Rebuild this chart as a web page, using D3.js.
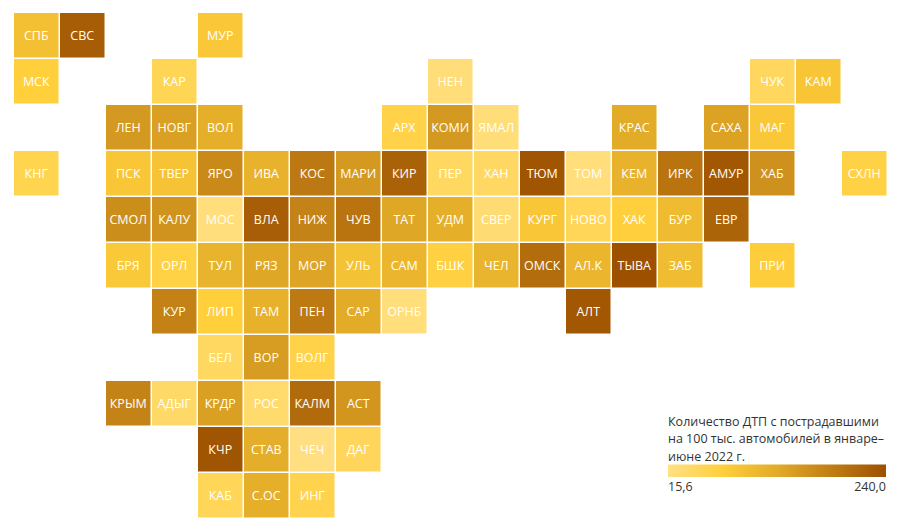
<!DOCTYPE html>
<html>
<head>
<meta charset="utf-8">
<script src="https://cdn.jsdelivr.net/npm/d3@7"></script>
<style>
  html, body { margin: 0; background: #fff; }
  text { font-family: "Open Sans", sans-serif; }
</style>
</head>
<body>
<div id="chart"></div>
<script>
// tile grid, one list per row, "" is an empty cell
const tileRows = [
  ["СПБ","СВС","","","МУР"],
  ["МСК","","","КАР","","","","","","НЕН","","","","","","","ЧУК","КАМ"],
  ["","","ЛЕН","НОВГ","ВОЛ","","","","АРХ","КОМИ","ЯМАЛ","","","КРАС","","САХА","МАГ"],
  ["КНГ","","ПСК","ТВЕР","ЯРО","ИВА","КОС","МАРИ","КИР","ПЕР","ХАН","ТЮМ","ТОМ","КЕМ","ИРК","АМУР","ХАБ","","СХЛН"],
  ["","","СМОЛ","КАЛУ","МОС","ВЛА","НИЖ","ЧУВ","ТАТ","УДМ","СВЕР","КУРГ","НОВО","ХАК","БУР","ЕВР"],
  ["","","БРЯ","ОРЛ","ТУЛ","РЯЗ","МОР","УЛЬ","САМ","БШК","ЧЕЛ","ОМСК","АЛ.К","ТЫВА","ЗАБ","","ПРИ"],
  ["","","","КУР","ЛИП","ТАМ","ПЕН","САР","ОРНБ","","","","АЛТ"],
  ["","","","","БЕЛ","ВОР","ВОЛГ"],
  ["","","КРЫМ","АДЫГ","КРДР","РОС","КАЛМ","АСТ"],
  ["","","","","КЧР","СТАВ","ЧЕЧ","ДАГ"],
  ["","","","","КАБ","С.ОС","ИНГ"]
];

// accidents per 100k cars, same shape as tileRows
const valueRows = [
  [94.1,224.3,null,null,82.9],
  [71.7,null,null,51.5,null,null,null,null,null,24.6,null,null,null,null,null,null,44.8,87.4],
  [null,null,150.2,141.3,121.1,null,null,null,60.5,150.2,24.6,null,null,127.8,null,139,82.9],
  [56,null,85.2,89.7,168.2,116.6,190.6,150.2,217.6,42.5,40.3,233.3,22.3,116.6,195.1,231,159.2,null,65],
  [null,null,163.7,157,22.3,222,177.2,195.1,132.3,121.1,29,85.2,49.3,69.5,103.1,215.3],
  [null,null,80.7,65,114.3,132.3,136.8,91.9,109.8,67.2,112.1,204.1,109.8,240,100.9,null,74],
  [null,null,null,179.4,71.7,118.8,188.4,127.8,22.3,null,null,null,231],
  [null,null,null,null,42.5,145.8,60.5],
  [null,null,177.2,38,141.3,33.6,206.3,154.7],
  [null,null,null,null,233.3,123.3,17.8,47],
  [null,null,null,null,49.3,121.1,58.2]
];

const colorStops = ["#ffe084", "#ffcf3c", "#e2ab28", "#c07d14", "#9c5000"];
const stopValues = [15.6, 71, 127.8, 184, 240];
const legendLines = ["Количество ДТП с пострадавшими", "на 100 тыс. автомобилей в январе–", "июне 2022 г."];
const legendTicks = [15.6, 240];

const width = 900, height = 530;

const svg = d3.select("#chart").append("svg")
  .attr("width", width)
  .attr("height", height)
  .style("display", "block");

const x = d3.scaleBand().domain(d3.range(19)).range([14, 886.5]).paddingInner(1.5 / 46);
const y = d3.scaleBand().domain(d3.range(11)).range([13, 517.5]).paddingInner(1.5 / 46);
const color = d3.scaleLinear().domain(stopValues).range(colorStops);

// flatten the rows into tiles
const tiles = tileRows.flatMap((row, r) =>
  row.map((name, c) => ({name, r, c, value: valueRows[r][c]})).filter(d => d.name !== ""));

const tile = svg.selectAll("g.tile")
  .data(tiles)
  .join("g")
    .attr("class", "tile")
    .attr("transform", d => `translate(${x(d.c)},${y(d.r)})`);

tile.append("rect")
  .attr("width", x.bandwidth())
  .attr("height", y.bandwidth())
  .style("fill", d => color(d.value));

tile.append("text")
  .attr("x", x.bandwidth() / 2)
  .attr("y", y.bandwidth() / 2)
  .attr("dy", "0.36em")
  .attr("text-anchor", "middle")
  .style("font-size", "12.5px")
  .style("fill", "#fff")
  .text(d => d.name);

// legend
const legendX = d3.scaleLinear().domain(legendTicks).range([668, 886]);

const grad = svg.append("defs").append("linearGradient").attr("id", "legend-grad");
grad.selectAll("stop")
  .data(stopValues)
  .join("stop")
    .attr("offset", d => (legendX(d) - 668) / 218)
    .attr("stop-color", d => color(d));

svg.selectAll("text.legend-title")
  .data(legendLines)
  .join("text")
    .attr("class", "legend-title")
    .attr("x", 668)
    .attr("y", (d, i) => 426 + i * 17.3)
    .style("font-size", "12.5px")
    .style("fill", "#333")
    .text(d => d);

svg.append("rect")
  .attr("x", 668)
  .attr("y", 464.5)
  .attr("width", 218)
  .attr("height", 12.5)
  .style("fill", "url(#legend-grad)");

svg.selectAll("text.legend-tick")
  .data(legendTicks)
  .join("text")
    .attr("class", "legend-tick")
    .attr("x", d => legendX(d))
    .attr("y", 491)
    .attr("text-anchor", (d, i) => i ? "end" : "start")
    .style("font-size", "12.5px")
    .style("fill", "#333")
    .text(d => d3.format(".1f")(d).replace(".", ","));
</script>
</body>
</html>
